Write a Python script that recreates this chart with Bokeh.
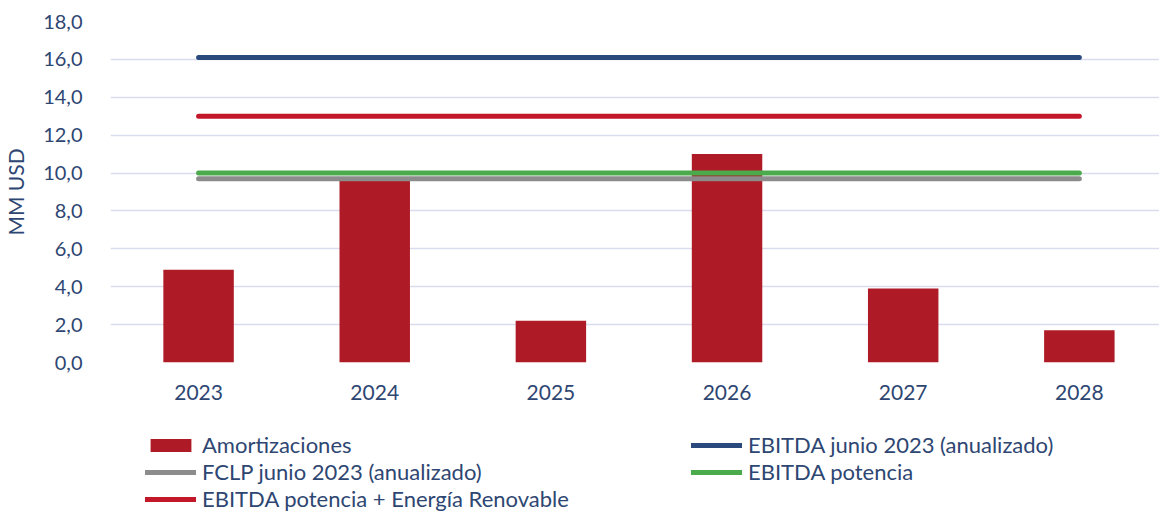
from bokeh.plotting import figure
from bokeh.layouts import column
from bokeh.models import Legend, LegendItem, FixedTicker, ColumnDataSource
from bokeh.embed import file_html
from bokeh.resources import INLINE

years = ["2023", "2024", "2025", "2026", "2027", "2028"]
amortizaciones = [4.9, 9.6, 2.2, 11.0, 3.9, 1.7]
ebitda_junio = [16.1, 16.1, 16.1, 16.1, 16.1, 16.1]
fclp_junio = [9.7, 9.7, 9.7, 9.7, 9.7, 9.7]
ebitda_potencia = [10.0, 10.0, 10.0, 10.0, 10.0, 10.0]
ebitda_pot_er = [13.0, 13.0, 13.0, 13.0, 13.0, 13.0]
y_ticks = [0, 2, 4, 6, 8, 10, 12, 14, 16, 18]
y_tick_labels = ["0,0", "2,0", "4,0", "6,0", "8,0", "10,0", "12,0", "14,0", "16,0", "18,0"]

xs = list(range(len(years)))
src = ColumnDataSource(dict(x=xs, amort=amortizaciones, ej=ebitda_junio, fc=fclp_junio,
                            ep=ebitda_potencia, eer=ebitda_pot_er))

TXT = "#2E4672"
FONT = "Lato"
C_BAR = "#AE1A25"
C_EJ = "#2A4A7D"
C_FC = "#8C8C8C"
C_EP = "#4BAA4B"
C_EER = "#C3182A"


def draw_series(fig):
    rb = fig.vbar(x="x", top="amort", width=0.4, source=src, fill_color=C_BAR, line_color=None)
    r1 = fig.line(x="x", y="ej", source=src, line_color=C_EJ, line_width=5, line_cap="round")
    r2 = fig.line(x="x", y="fc", source=src, line_color=C_FC, line_width=5, line_cap="round")
    r3 = fig.line(x="x", y="ep", source=src, line_color=C_EP, line_width=5, line_cap="round")
    r4 = fig.line(x="x", y="eer", source=src, line_color=C_EER, line_width=5, line_cap="round")
    return rb, r1, r2, r3, r4


p = figure(width=1159, height=402, x_range=(-0.5, 5.455), y_range=(0, 18),
           output_backend="svg", toolbar_location=None,
           min_border_left=99, min_border_right=0, min_border_top=21, min_border_bottom=0)
p.outline_line_color = None
p.background_fill_color = "white"
draw_series(p)

# axes
p.xaxis.ticker = FixedTicker(ticks=xs)
p.xaxis.major_label_overrides = {i: y for i, y in enumerate(years)}
p.yaxis.ticker = FixedTicker(ticks=y_ticks)
p.yaxis.major_label_overrides = {t: l for t, l in zip(y_ticks, y_tick_labels)}
for ax in (p.xaxis[0], p.yaxis[0]):
    ax.axis_line_color = None
    ax.major_tick_line_color = None
    ax.minor_tick_line_color = None
    ax.major_label_text_color = TXT
    ax.major_label_text_font = FONT
p.xaxis.major_label_text_font_size = "21px"
p.yaxis.major_label_text_font_size = "20px"
p.xaxis.major_label_standoff = 16
p.yaxis.major_label_standoff = 22
p.yaxis.axis_label = "MM USD"
p.yaxis.axis_label_text_font = FONT
p.yaxis.axis_label_text_font_size = "21px"
p.yaxis.axis_label_text_font_style = "normal"
p.yaxis.axis_label_text_color = TXT
p.yaxis.axis_label_standoff = 12

p.xgrid.grid_line_color = None
p.ygrid.grid_line_color = "#D9DCEE"
p.ygrid.grid_line_width = 1.5

# legend strip as a second figure (series drawn outside its visible range)
lg = figure(width=1159, height=110, x_range=(0, 1), y_range=(100, 101),
            output_backend="svg", toolbar_location=None,
            min_border_left=0, min_border_right=0, min_border_top=0, min_border_bottom=0)
lg.outline_line_color = None
lg.axis.visible = False
lg.grid.visible = False
r_bar, r_ej, r_fc, r_ep, r_eer = draw_series(lg)

items = [
    LegendItem(label="Amortizaciones", renderers=[r_bar]),
    LegendItem(label="FCLP junio 2023 (anualizado)", renderers=[r_fc]),
    LegendItem(label="EBITDA potencia + Energía Renovable", renderers=[r_eer]),
    LegendItem(label="EBITDA junio 2023 (anualizado)", renderers=[r_ej]),
    LegendItem(label="EBITDA potencia", renderers=[r_ep]),
]
legend = Legend(items=items, ncols=2, location=(35, 0), margin=0, padding=0, spacing=0,
                border_line_color=None, background_fill_alpha=0,
                label_text_font=FONT, label_text_font_size="22px", label_text_color=TXT,
                glyph_width=51, glyph_height=16, label_standoff=6, label_width=489,
                label_height=27)
lg.add_layout(legend, "center")

layout = column(p, lg, spacing=0)
open("out.html", "w").write(file_html(layout, INLINE))
